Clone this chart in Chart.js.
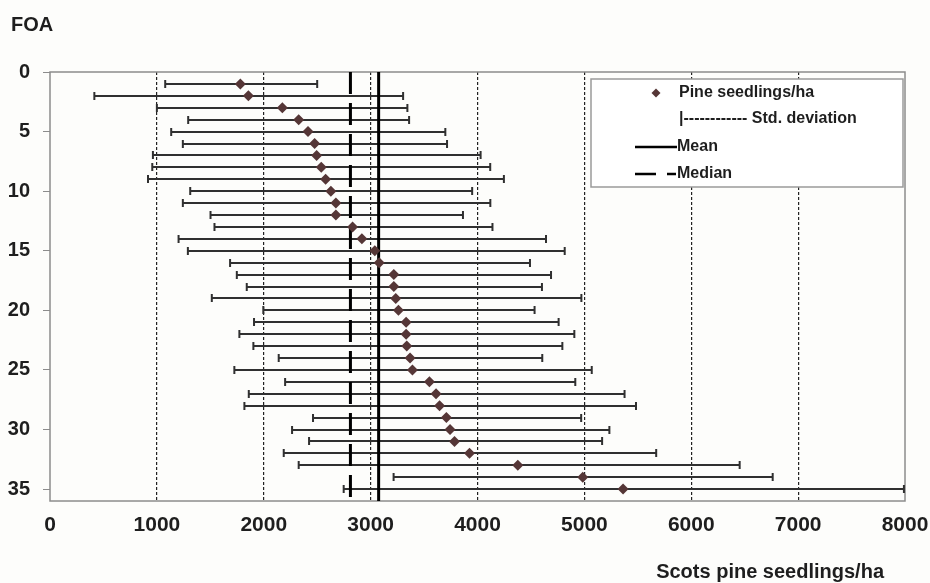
<!DOCTYPE html>
<html>
<head>
<meta charset="utf-8">
<script src="https://cdn.jsdelivr.net/npm/chart.js@4.4.0/dist/chart.umd.min.js"></script>
<style>
  html, body { margin: 0; padding: 0; background: #fdfdfb; }
  #wrap { width: 930px; height: 583px; }
</style>
</head>
<body>
<div id="wrap"><canvas id="foaChart" width="930" height="583"></canvas></div>
<script>
// FOA number (1..35) with mean seedlings/ha and the +/- one std. deviation range
const foa = [1, 2, 3, 4, 5, 6, 7, 8, 9, 10, 11, 12, 13, 14, 15, 16, 17, 18,
             19, 20, 21, 22, 23, 24, 25, 26, 27, 28, 29, 30, 31, 32, 33, 34, 35];
const seedlings = [1781, 1856, 2174, 2327, 2414, 2476, 2495, 2538, 2579, 2628, 2675, 2675,
                   2831, 2918, 3039, 3080, 3217, 3217, 3235, 3260, 3332, 3332, 3338, 3369,
                   3391, 3550, 3612, 3645, 3709, 3743, 3785, 3925, 4377, 4985, 5362];
const stdLow = [1078, 415, 1000, 1293, 1134, 1243, 963, 957, 917, 1312, 1243, 1502,
                1539, 1203, 1290, 1685, 1748, 1841, 1514, 1996, 1909, 1772, 1903, 2140,
                1725, 2200, 1860, 1819, 2461, 2265, 2424, 2187, 2327, 3215, 2748];
const stdHigh = [2500, 3304, 3344, 3360, 3699, 3715, 4029, 4119, 4247, 3950, 4120, 3864,
                 4140, 4641, 4816, 4491, 4688, 4603, 4972, 4534, 4759, 4906, 4794, 4606,
                 5069, 4915, 5376, 5483, 4970, 5234, 5166, 5672, 6453, 6762, 7990];
const meanValue = 3075;
const medianValue = 2811;

const xTicks = [0, 1000, 2000, 3000, 4000, 5000, 6000, 7000, 8000];
const yTicks = [0, 5, 10, 15, 20, 25, 30, 35];
const yMax = 36;

const FONT = '"Liberation Sans", Arial, Helvetica, sans-serif';
const pointColor = '#553636';

// frame around plot area + horizontal std. deviation bars
const errorBars = {
  id: 'errorBars',
  beforeDatasetsDraw(chart) {
    const { ctx, chartArea: a, scales: { x, y } } = chart;
    ctx.save();
    ctx.strokeStyle = '#8c8c8c';
    ctx.lineWidth = 1.5;
    ctx.strokeRect(a.left, a.top, a.right - a.left, a.bottom - a.top);

    ctx.strokeStyle = '#303030';
    ctx.lineWidth = 2;
    foa.forEach((f, i) => {
      const py = Math.round(y.getPixelForValue(f));
      const x1 = x.getPixelForValue(stdLow[i]);
      const x2 = x.getPixelForValue(stdHigh[i]);
      ctx.beginPath();
      ctx.moveTo(x1, py); ctx.lineTo(x2, py);
      ctx.moveTo(x1, py - 4); ctx.lineTo(x1, py + 4);
      ctx.moveTo(x2, py - 4); ctx.lineTo(x2, py + 4);
      ctx.stroke();
    });
    ctx.restore();
  }
};

// boxed legend in the top right corner
const boxLegend = {
  id: 'boxLegend',
  afterDatasetsDraw(chart) {
    const ctx = chart.ctx;
    const bx = 591, by = 79, bw = 312, bh = 108;
    ctx.save();
    ctx.fillStyle = '#ffffff';
    ctx.fillRect(bx, by, bw, bh);
    ctx.strokeStyle = '#9a9a9a';
    ctx.lineWidth = 1.5;
    ctx.strokeRect(bx, by, bw, bh);

    ctx.font = 'bold 16px ' + FONT;
    ctx.fillStyle = '#1e1e1e';
    ctx.textBaseline = 'middle';
    ctx.textAlign = 'left';

    // diamond marker
    ctx.save();
    ctx.fillStyle = pointColor;
    ctx.beginPath();
    ctx.moveTo(656, 88.5); ctx.lineTo(660.5, 93); ctx.lineTo(656, 97.5); ctx.lineTo(651.5, 93);
    ctx.closePath();
    ctx.fill();
    ctx.restore();
    ctx.fillText('Pine seedlings/ha', 679, 93);

    ctx.fillText('|------------ Std. deviation', 679, 119);

    ctx.strokeStyle = '#000';
    ctx.lineWidth = 2.5;
    ctx.beginPath();
    ctx.moveTo(635, 147); ctx.lineTo(677, 147);
    ctx.stroke();
    ctx.fillText('Mean', 677, 147);

    ctx.beginPath();
    ctx.moveTo(635, 174); ctx.lineTo(656, 174);
    ctx.moveTo(667, 174); ctx.lineTo(676, 174);
    ctx.stroke();
    ctx.fillText('Median', 677, 174);
    ctx.restore();
  },
  afterDraw(chart) {
    const ctx = chart.ctx;
    ctx.save();
    ctx.font = 'bold 20px ' + FONT;
    ctx.fillStyle = '#1e1e1e';
    ctx.textBaseline = 'alphabetic';
    ctx.textAlign = 'left';
    ctx.fillText('FOA', 11, 31);
    ctx.textAlign = 'right';
    ctx.fillText('Scots pine seedlings/ha', 884, 578);
    ctx.restore();
  }
};

const ctx = document.getElementById('foaChart').getContext('2d');
window.foaChart = new Chart(ctx, {
  type: 'scatter',
  data: {
    datasets: [
      {
        label: 'Pine seedlings/ha',
        data: foa.map((f, i) => ({ x: seedlings[i], y: f })),
        pointStyle: 'rectRot',
        pointRadius: 5.5,
        pointBorderWidth: 0,
        backgroundColor: pointColor,
        borderColor: pointColor
      },
      {
        label: 'Mean',
        data: [{ x: meanValue, y: 0 }, { x: meanValue, y: yMax }],
        showLine: true,
        pointRadius: 0,
        borderColor: '#000',
        borderWidth: 3
      },
      {
        label: 'Median',
        data: [{ x: medianValue, y: 0 }, { x: medianValue, y: yMax }],
        showLine: true,
        pointRadius: 0,
        borderColor: '#000',
        borderWidth: 3,
        borderDash: [22, 9]
      }
    ]
  },
  options: {
    responsive: false,
    animation: false,
    layout: { padding: { left: 0, top: 72, right: 25, bottom: 0 } },
    plugins: { legend: { display: false }, tooltip: { enabled: false } },
    scales: {
      x: {
        type: 'linear',
        min: 0,
        max: 8000,
        afterBuildTicks: (s) => { s.ticks = xTicks.map(v => ({ value: v })); },
        afterFit: (s) => {
          s.height = 82;
          s.paddingLeft = 0;
          s.paddingRight = 0;
        },
        ticks: {
          font: { family: FONT, size: 21, weight: 'bold' },
          color: '#1e1e1e',
          padding: 12,
          callback: (v) => String(v)
        },
        grid: {
          drawTicks: false,
          lineWidth: 1.2,
          color: (c) => (c.tick && (c.tick.value === 0 || c.tick.value === 8000)) ? 'rgba(0,0,0,0)' : '#222'
        },
        border: { display: false, dash: [3, 2] }
      },
      y: {
        type: 'linear',
        reverse: true,
        min: 0,
        max: yMax,
        afterBuildTicks: (s) => { s.ticks = yTicks.map(v => ({ value: v })); },
        afterFit: (s) => { s.width = 50; },
        ticks: {
          font: { family: FONT, size: 20, weight: 'bold' },
          color: '#1e1e1e',
          padding: 13,
          callback: (v) => String(v)
        },
        grid: {
          drawOnChartArea: false,
          drawTicks: true,
          tickLength: 7,
          tickColor: '#8c8c8c',
          color: '#8c8c8c'
        },
        border: { display: false }
      }
    }
  },
  plugins: [errorBars, boxLegend]
});
</script>
</body>
</html>
